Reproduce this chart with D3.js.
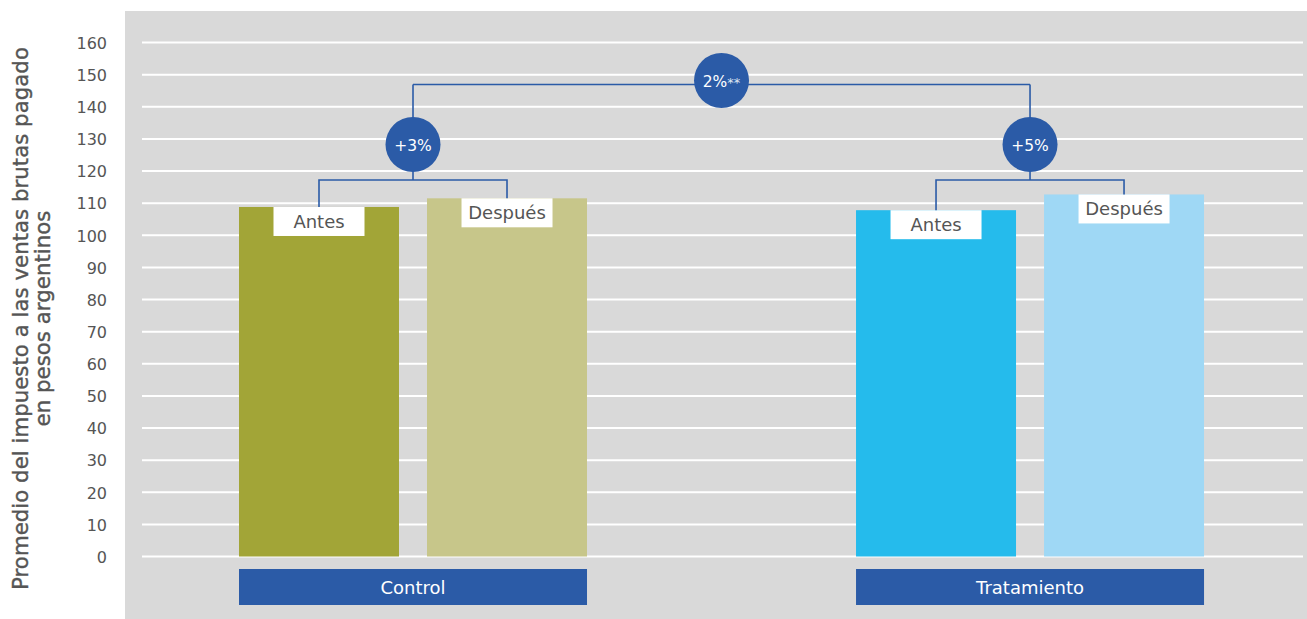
<!DOCTYPE html>
<html><head><meta charset="utf-8">
<script src="https://cdn.jsdelivr.net/npm/d3@7"></script>
<style>
html,body{margin:0;padding:0;background:#fff;}
svg{display:block;font-family:"DejaVu Sans",sans-serif;}
</style></head>
<body><svg id="c" width="1307" height="619"></svg>
<script>
const groups = ["Control", "Tratamiento"];
const periods = ["Antes", "Después"];
const controlValues = [108.8, 111.5];
const tratamientoValues = [107.8, 112.7];
const groupChange = ["+3%", "+5%"];
const overallChange = ["2%", "**"];
const yTicks = [0,10,20,30,40,50,60,70,80,90,100,110,120,130,140,150,160];
const yTitle = ["Promedio del impuesto a las ventas brutas pagado", "en pesos argentinos"];
const periodColors = {Control: ["#A2A537", "#C7C68A"], Tratamiento: ["#25BBEC", "#9FD8F5"]};

const valuesByGroup = {Control: controlValues, Tratamiento: tratamientoValues};
const svg = d3.select("#c");
const W = 1307, H = 619;
const plotL = 142, plotR = 1303;
const blue = "#2B5BA7", txt = "#555";

svg.append("rect").attr("x",125).attr("y",11).attr("width",W-125).attr("height",H-11).attr("fill","#D9D9D9");

const y = d3.scaleLinear().domain([0,160]).range([556.5,42.5]);
const xg = d3.scaleBand().domain(groups).range([plotL, plotR]).paddingInner(0.436).paddingOuter(0.1588).align(0.495);
const xp = d3.scaleBand().domain(periods).range([0, xg.bandwidth()]).paddingInner(0.149).paddingOuter(0);

// grid
svg.append("g").selectAll("line").data(yTicks).join("line")
  .attr("x1",plotL).attr("x2",plotR).attr("y1",d=>y(d)).attr("y2",d=>y(d))
  .attr("stroke","#fff").attr("stroke-width",2);

// y axis
const ya = d3.axisLeft(y).tickValues(yTicks).tickSize(0).tickPadding(0);
const yg = svg.append("g").attr("transform","translate(107,0)").call(ya);
yg.select(".domain").remove();
yg.selectAll("text").attr("fill",txt).attr("font-size",16).attr("font-family","'DejaVu Sans',sans-serif").attr("dy","0.36em");

// y title
const tg = svg.append("g").attr("transform","translate(28,318.5) rotate(-90)");
const tt = tg.selectAll("text").data(yTitle).join("text")
  .attr("x",0).attr("y",(d,i)=>i*22).attr("text-anchor","middle")
  .attr("fill",txt).attr("stroke",txt).attr("stroke-width",0.4).attr("font-size",18).text(d=>d);
const L = tt.node().getComputedTextLength();
tt.attr("font-size",18 * 543 / L);

// bars
const flat = [];
groups.forEach(g => periods.forEach((p,i) => flat.push({g, p, i, v: valuesByGroup[g][i]})));
const bx = d => xg(d.g) + xp(d.p);
svg.append("g").selectAll("rect").data(flat).join("rect")
  .attr("x",bx).attr("width",xp.bandwidth())
  .attr("y",d=>y(d.v)).attr("height",d=>y(0)-y(d.v))
  .attr("fill",d=>periodColors[d.g][d.i]);

// period labels
const lw = 91, lh = 29;
const lab = svg.append("g").selectAll("g").data(flat).join("g")
  .attr("transform",d=>`translate(${bx(d)+xp.bandwidth()/2},${y(d.v)})`);
lab.append("rect").attr("x",-lw/2).attr("y",0).attr("width",lw).attr("height",lh).attr("fill","#fff");
lab.append("text").attr("x",0).attr("y",lh/2+6.5).attr("text-anchor","middle")
  .attr("fill",txt).attr("font-size",18).text(d=>d.p);

// category boxes
const cb = svg.append("g").selectAll("g").data(groups).join("g")
  .attr("transform",g=>`translate(${xg(g)},569)`);
cb.append("rect").attr("width",xg.bandwidth()).attr("height",36).attr("fill",blue);
cb.append("text").attr("x",xg.bandwidth()/2).attr("y",25).attr("text-anchor","middle")
  .attr("fill","#fff").attr("font-size",18).text(g=>g);

// brackets
const bracketY = 180, circleY = 144.5, topY = 84.5, r = 27.5;
const lines = svg.append("g").attr("stroke",blue).attr("stroke-width",1.6).attr("fill","none");
const centers = [];
groups.forEach((g,gi) => {
  const xa = bx({g, p: periods[0]}) + xp.bandwidth()/2;
  const xb = bx({g, p: periods[1]}) + xp.bandwidth()/2;
  const xm = (xa+xb)/2;
  centers.push(xm);
  const ya_ = y(valuesByGroup[g][0]), yb_ = y(valuesByGroup[g][1]);
  lines.append("path").attr("d",`M${xa},${ya_}V${bracketY}H${xb}V${yb_}`);
  lines.append("path").attr("d",`M${xm},${bracketY}V${topY}`);
});
lines.append("path").attr("d",`M${centers[0]},${topY}H${centers[1]}`);

const circles = [
  {x: centers[0], y: circleY, t: [groupChange[0]]},
  {x: centers[1], y: circleY, t: [groupChange[1]]},
  {x: (centers[0]+centers[1])/2, y: topY - 4, t: overallChange}
];
const cg = svg.append("g").selectAll("g").data(circles).join("g").attr("transform",d=>`translate(${d.x},${d.y})`);
cg.append("circle").attr("r",r).attr("fill",blue);
const ct = cg.append("text").attr("y",6).attr("text-anchor","middle").attr("fill","#fff").attr("font-size",15.5);
ct.selectAll("tspan").data(d=>d.t).join("tspan")
  .attr("font-size",(d,i)=>i===0?15.5:13).attr("fill",(d,i)=>i===0?"#fff":"#dfe6f2").text(d=>d);
</script>
</body></html>
